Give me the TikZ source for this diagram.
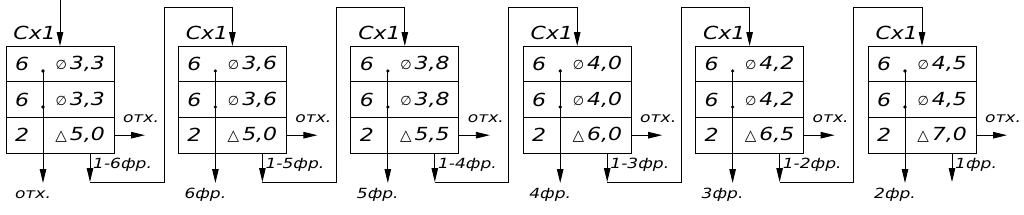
\documentclass[tikz,border=0pt]{standalone}
\usepackage{fontspec}
\setmainfont{DejaVu Sans}[FakeStretch=1.22]
\newfontfamily\symfont{DejaVu Sans}
\usetikzlibrary{arrows.meta,positioning,calc}
\tikzset{
  >={Triangle[length=14pt,width=6.5pt]},
  wire/.style={line width=0.9pt},
  tab/.style={draw,line width=0.9pt,minimum width=108pt,minimum height=107pt,
    inner sep=0pt,outer sep=0pt,anchor=north west},
  cell/.style={font=\fontsize{18}{18}\selectfont\itshape,inner sep=0pt},
  lbl/.style={font=\fontsize{14}{14}\selectfont\itshape,inner sep=0pt},
}
\newcommand{\comma}{,}
\newcommand{\dia}{{\symfont\fontsize{13}{13}\selectfont ∅}}
\newcommand{\tri}{{\symfont\fontsize{15}{15}\selectfont △}}

\begin{document}
\begin{tikzpicture}[x=1pt,y=-1pt]
  \useasboundingbox (0,0) rectangle (1024,214);
  \foreach \v/\w/\bl/\br [count=\i] in {
    3\comma3/5\comma0/отх./1-6фр.,
    3\comma6/5\comma0/6фр./1-5фр.,
    3\comma8/5\comma5/5фр./1-4фр.,
    4\comma0/6\comma0/4фр./1-3фр.,
    4\comma2/6\comma5/3фр./1-2фр.,
    4\comma5/7\comma0/2фр./1фр.}
  {
    \pgfmathsetmacro\L{6+172.4*(\i-1)}
    \begin{scope}[shift={(\L,0)}]
      \node[tab] (t\i) at (0,46) {};
      \draw[wire] (0,81.7) -- (108,81.7) (0,117.3) -- (108,117.3);
      \coordinate (in\i) at (54,46);
      \coordinate (out\i) at (84,182);
      \coordinate (up\i) at (158,7);
      \node[cell,anchor=east] (cx\i) at (50,33) {Сх1};
      % rows
      \node[cell] (a\i) at (16,63.8) {6};
      \node[cell] (b\i) at (16,99.5) {6};
      \node[cell] (c\i) at (16,135.2) {2};
      \node[cell,anchor=east] (va\i) at (99,63.8) {\dia\,\v};
      \node[cell,anchor=east] (vb\i) at (99,99.5) {\dia\,\v};
      \node[cell,anchor=east] (vc\i) at (99,135.2) {\tri\,\w};
      % tapping line
      \fill (37,71) coordinate (d\i) circle (1.8pt) (37,107) circle (1.8pt);
      \draw[wire,->] (d\i) -- (37,183);
      \node[lbl] (bl\i) at (27,195) {\bl};
      \draw[wire,->] (t\i.east |- vc\i) -- ++(31,0) coordinate (r\i);
      \node[lbl] (ot\i) at (135,119) {отх.};
      \draw[wire,->] (t\i.south -| out\i) -- (out\i);
      \node[lbl,anchor=west] (br\i) at (87,165) {\br};
    \end{scope}
  }
  \draw[wire,->] (in1 |- 0,0) -- (in1);
  \foreach \i [evaluate=\i as \j using int(\i+1)] in {1,...,5}
    \draw[wire,->] (out\i) -| (up\i) -| (in\j);
\end{tikzpicture}
\end{document}
